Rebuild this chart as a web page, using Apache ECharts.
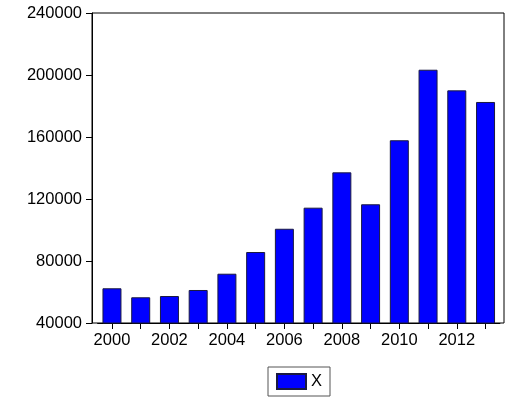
<!DOCTYPE html>
<html>
<head>
<meta charset="utf-8">
<script src="https://cdn.jsdelivr.net/npm/echarts@6/dist/echarts.min.js"></script>
<style>
  html, body { margin: 0; padding: 0; background: #fff; }
  #main { width: 507px; height: 398px; }
</style>
</head>
<body>
<div id="main"></div>
<script>
// chart data
var years = ['2000', '2001', '2002', '2003', '2004', '2005', '2006',
             '2007', '2008', '2009', '2010', '2011', '2012', '2013'];
var xValues = [62400, 56600, 57400, 61300, 71800, 85800, 100800,
               114400, 137200, 116600, 157900, 203400, 190100, 182600];
var yTicks = [40000, 240000, 40000]; // min, max, step

var font = 'Liberation Sans, Arial, Helvetica, sans-serif';

var myChart = echarts.init(document.getElementById('main'));

var option = {
    animation: false,
    textStyle: { fontFamily: font },
    grid: [
        // outer frame with the value axis
        { left: 92, top: 13, width: 412, height: 310, show: true,
          borderColor: '#000', borderWidth: 1, backgroundColor: 'transparent' },
        // inner band for the bars, a little narrower than the frame
        { left: 97.6, top: 13, width: 402.3, height: 310 }
    ],
    xAxis: [
        { type: 'value', gridIndex: 0, show: false, min: 0, max: 1 },
        {
            type: 'category', gridIndex: 1, data: years, boundaryGap: true,
            axisLine: { show: true, lineStyle: { color: '#000' } },
            axisTick: { show: true, alignWithLabel: true, length: 6, interval: 0,
                        lineStyle: { color: '#000' } },
            axisLabel: { interval: 1, margin: 9, color: '#000', fontSize: 16.5,
                         fontFamily: font }
        }
    ],
    yAxis: [
        {
            type: 'value', gridIndex: 0,
            min: yTicks[0], max: yTicks[1], interval: yTicks[2],
            splitLine: { show: false },
            axisLine: { show: true, lineStyle: { color: '#000' } },
            axisTick: { show: true, length: 6, lineStyle: { color: '#000' } },
            axisLabel: { margin: 10, color: '#000', fontSize: 16.5, fontFamily: font,
                         formatter: function (v) { return String(v); } }
        },
        {
            type: 'value', gridIndex: 1, show: false,
            min: yTicks[0], max: yTicks[1], interval: yTicks[2],
            splitLine: { show: false }
        }
    ],
    legend: {
        left: 268, top: 367,
        icon: 'rect',
        itemWidth: 29, itemHeight: 15, itemGap: 5,
        padding: [6, 8, 6, 8],
        borderColor: '#555', borderWidth: 1,
        textStyle: { fontSize: 16.5, color: '#000', fontFamily: font },
        data: ['X']
    },
    series: [
        {
            name: 'X',
            type: 'bar',
            xAxisIndex: 1, yAxisIndex: 1,
            data: xValues,
            barWidth: 19,
            itemStyle: { color: '#0000FF', borderColor: '#1a1a40', borderWidth: 1 }
        }
    ]
};

myChart.setOption(option);
</script>
</body>
</html>
